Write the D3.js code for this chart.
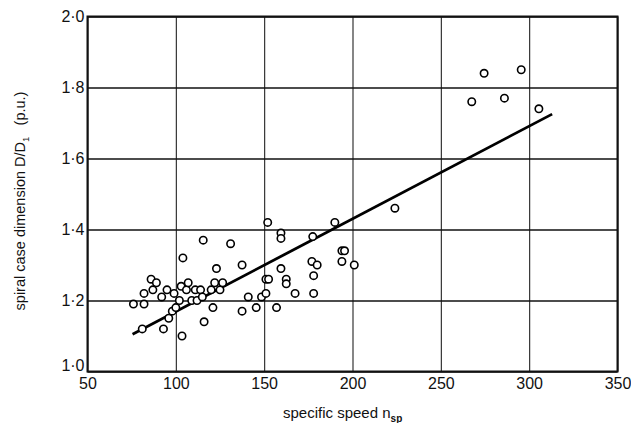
<!DOCTYPE html>
<html>
<head>
<meta charset="utf-8">
<script src="https://cdn.jsdelivr.net/npm/d3@7"></script>
<style>
  body { margin: 0; background: #fff; }
  svg { display: block; }
  text { font-family: "Liberation Sans", Arial, sans-serif; fill: #111; }
</style>
</head>
<body>
<div id="chart"></div>
<script>
// specific speed n_sp of each machine
var nsp = [76, 82, 82, 86, 89, 87, 81, 92, 95, 99, 93, 96, 98, 100, 102, 103, 104, 103.5,
  106, 107, 109, 111, 112, 114, 115, 115.5, 116, 120, 121, 122, 123, 125, 126.5, 131,
  137.5, 137.5, 141, 145.5, 148.5, 151, 151, 152.5, 152, 157, 159.5, 159.5, 159.5,
  162.5, 162.5, 167.5, 177, 177.5, 178, 178, 180, 190, 194, 195.5, 194, 201, 224,
  267.5, 274.5, 286, 295.5, 305.5];
// spiral case dimension D/D1 (p.u.)
var ratio = [1.19, 1.19, 1.22, 1.26, 1.25, 1.23, 1.12, 1.21, 1.23, 1.22, 1.12, 1.15, 1.17, 1.18, 1.20, 1.24, 1.32, 1.10,
  1.23, 1.25, 1.20, 1.23, 1.20, 1.23, 1.21, 1.37, 1.14, 1.23, 1.18, 1.25, 1.29, 1.23, 1.25, 1.36,
  1.30, 1.17, 1.21, 1.18, 1.21, 1.22, 1.26, 1.26, 1.42, 1.18, 1.29, 1.39, 1.375,
  1.26, 1.247, 1.22, 1.31, 1.38, 1.27, 1.22, 1.30, 1.42, 1.34, 1.34, 1.31, 1.30, 1.46,
  1.76, 1.84, 1.77, 1.85, 1.74];
// fitted line end points
var fitX = [75.5, 313];
var fitY = [1.105, 1.725];

var xTicks = [50, 100, 150, 200, 250, 300, 350];
var yTicks = [1.0, 1.2, 1.4, 1.6, 1.8, 2.0];

var W = 631, H = 423;
var plotL = 87.5, plotR = 617.5, plotT = 16.5, plotB = 371.5;

var svg = d3.select('#chart').append('svg')
  .attr('width', W).attr('height', H);

var x = d3.scaleLinear().domain([50, 350]).range([plotL, plotR]);
var y = d3.scaleLinear().domain([1.0, 2.0]).range([plotB, plotT]);

var fmt = function(d) { return d.toFixed(1).replace('.', '\u00b7'); };

//vertical grid lines
svg.append('g')
  .attr('transform', 'translate(0,' + plotB + ')')
  .call(d3.axisBottom(x).tickValues(xTicks).tickSize(-(plotB - plotT)).tickFormat(''))
  .call(function(g) {
    g.select('.domain').remove();
    g.selectAll('line').attr('stroke', '#222').attr('stroke-width', 1.1);
  });

//horizontal grid lines
svg.append('g')
  .attr('transform', 'translate(' + plotL + ',0)')
  .call(d3.axisLeft(y).tickValues(yTicks).tickSize(-(plotR - plotL)).tickFormat(''))
  .call(function(g) {
    g.select('.domain').remove();
    g.selectAll('line').attr('stroke', '#111').attr('stroke-width', 1.6);
  });

//frame
svg.append('rect')
  .attr('x', plotL).attr('y', plotT)
  .attr('width', plotR - plotL).attr('height', plotB - plotT)
  .attr('fill', 'none').attr('stroke', '#111').attr('stroke-width', 2);

//x tick labels
svg.append('g')
  .attr('transform', 'translate(0,' + plotB + ')')
  .call(d3.axisBottom(x).tickValues(xTicks).tickSize(0).tickPadding(6))
  .call(function(g) {
    g.select('.domain').remove();
    g.selectAll('text').attr('font-size', 16).attr('fill', '#111')
      .attr('font-family', '"Liberation Sans", Arial, sans-serif');
  });

//y tick labels
svg.append('g')
  .attr('transform', 'translate(' + (plotL - 2) + ',0)')
  .call(d3.axisLeft(y).tickValues(yTicks).tickSize(0).tickPadding(1).tickFormat(fmt))
  .call(function(g) {
    g.select('.domain').remove();
    g.selectAll('text').attr('font-size', 16).attr('fill', '#111')
      .attr('font-family', '"Liberation Sans", Arial, sans-serif');
    // bottom label sits a little above its line
    g.selectAll('.tick').filter(function(d) { return d === 1.0; })
      .select('text').attr('dy', '-0.05em');
  });

//regression line
svg.append('line')
  .attr('x1', x(fitX[0])).attr('y1', y(fitY[0]))
  .attr('x2', x(fitX[1])).attr('y2', y(fitY[1]))
  .attr('stroke', '#000').attr('stroke-width', 2.8);

//points
var pts = nsp.map(function(d, i) { return {n: d, r: ratio[i]}; });
svg.append('g').selectAll('circle').data(pts).enter().append('circle')
  .attr('cx', function(d) { return x(d.n); })
  .attr('cy', function(d) { return y(d.r); })
  .attr('r', 3.7)
  .attr('fill', '#fff')
  .attr('stroke', '#000')
  .attr('stroke-width', 1.6);

//axis titles
var xt = svg.append('text')
  .attr('x', 283).attr('y', 418)
  .attr('font-size', 15);
xt.append('tspan').text('specific speed n');
xt.append('tspan').attr('font-size', 10).attr('dy', 4).attr('font-weight', 'bold').text('sp');

var yt = svg.append('text')
  .attr('transform', 'translate(25,' + 201 + ') rotate(-90)')
  .attr('text-anchor', 'middle')
  .attr('font-size', 14.5);
yt.append('tspan').text('spiral case dimension D/D');
yt.append('tspan').attr('font-size', 9.5).attr('dy', 4).text('1');
yt.append('tspan').attr('dy', -4).text('\u2002 (p.u.)');
</script>
</body>
</html>
